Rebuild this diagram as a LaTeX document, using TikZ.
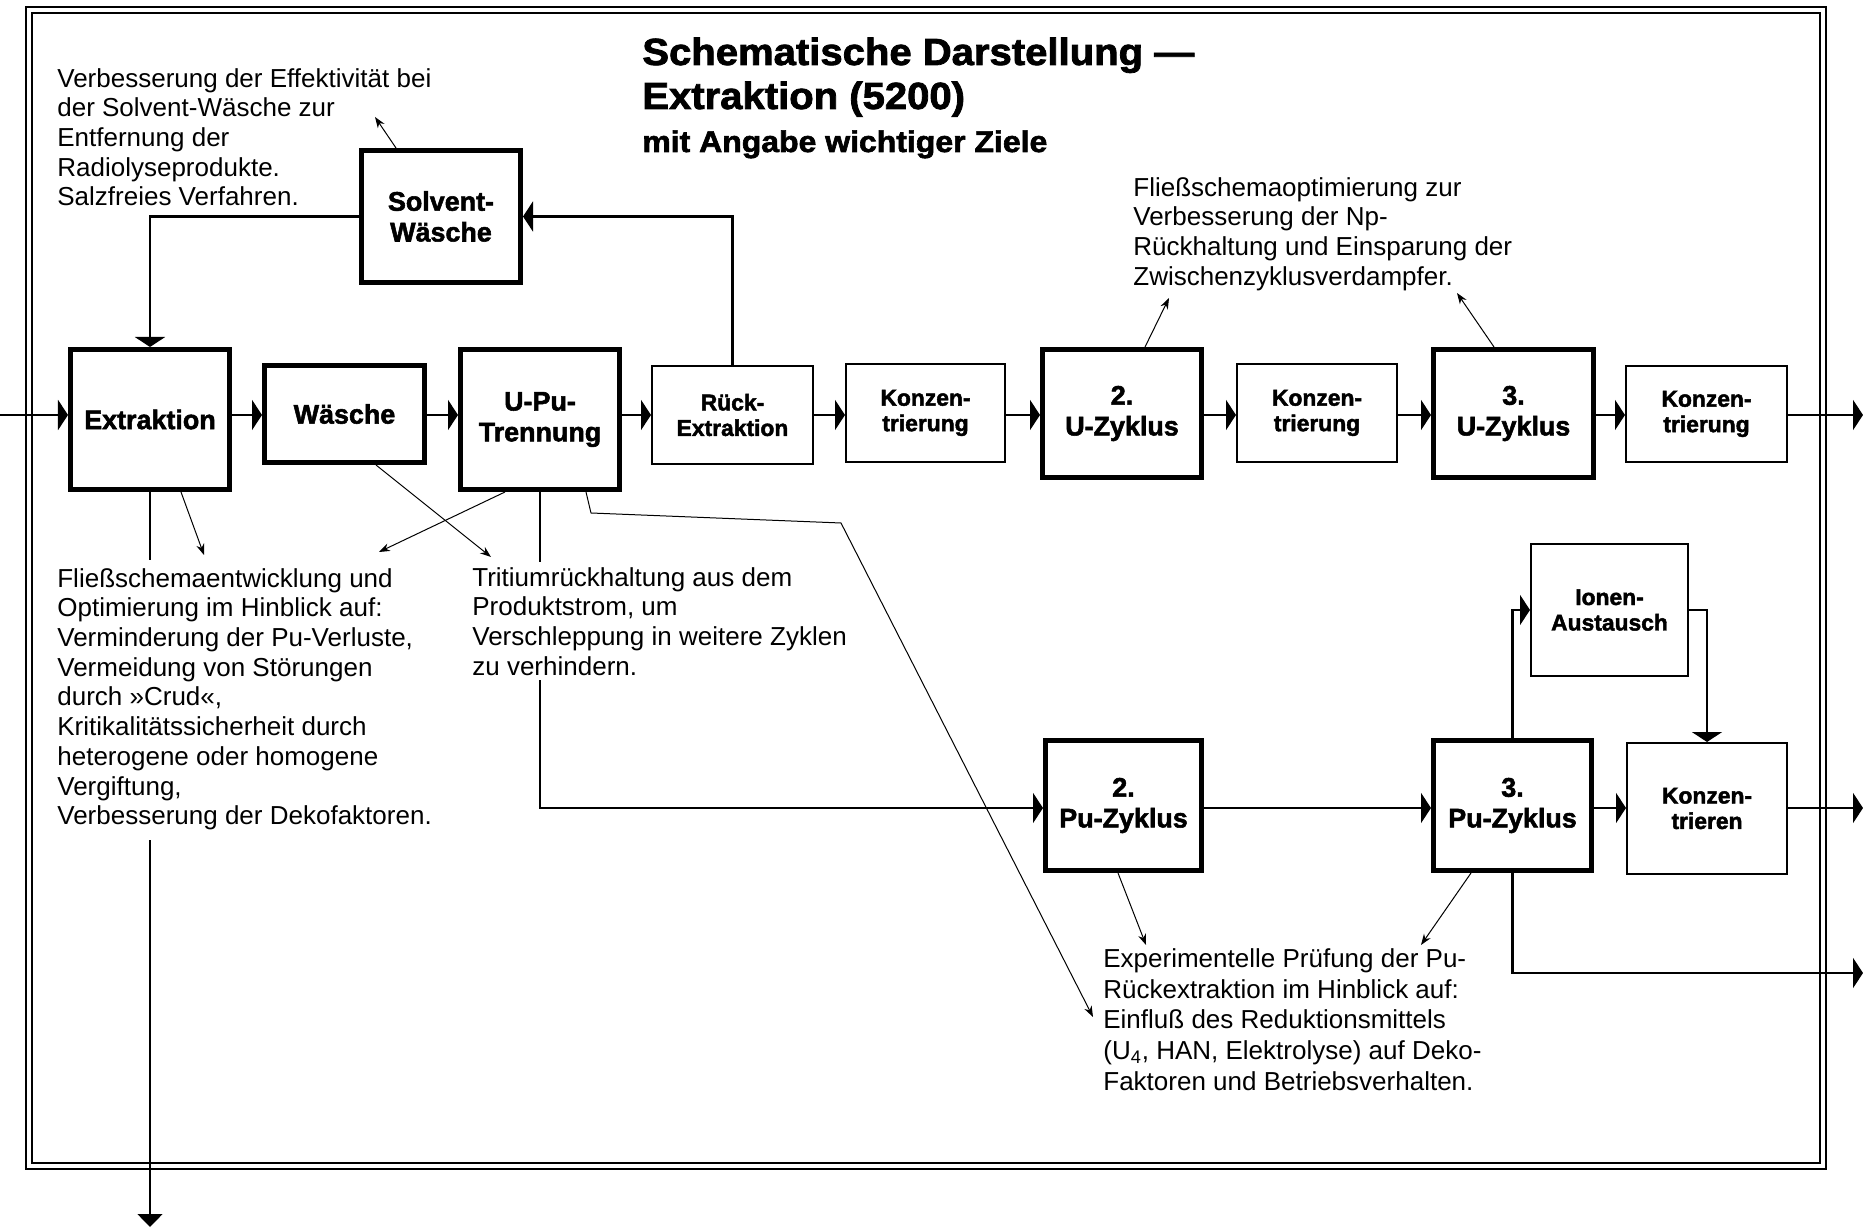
\documentclass[tikz,border=0pt]{standalone}
\usepackage{fontspec}
\setmainfont{Liberation Sans}
\newfontfamily\heavyfont{Liberation Sans}[UprightFont={* Bold},FakeBold=2]
\usepackage{graphicx}
\usetikzlibrary{arrows.meta,calc}

\begin{document}
\begin{tikzpicture}[x=0.2mm,y=-0.2mm,
  every node/.style={inner sep=0pt},
  thickbox/.style={draw,line width=1mm,align=center,
    font=\fontsize{15.3}{17.5}\selectfont\heavyfont},
  thinbox/.style={draw,line width=0.4mm,align=center,
    font=\fontsize{13}{14.5}\selectfont\heavyfont},
  note/.style={anchor=north west,align=left,
    font=\fontsize{14.8}{16.9}\selectfont},
  flow/.style={line width=0.45mm,-{Triangle[length=2mm,width=6mm]}},
  flowline/.style={line width=0.45mm},
  lead/.style={line width=0.2mm,-{Stealth[length=2.2mm,width=1.6mm]}},
  heading/.style={anchor=base west,font=\fontsize{21.5}{24}\selectfont\heavyfont},
]
\useasboundingbox (0,0) rectangle (1863,1229);

% double frame
\draw[line width=0.25mm] (26,7) rectangle (1826,1169);
\draw[line width=0.25mm] (32,13) rectangle (1820,1163);

% headings
\node[heading] (title) at (642,65) {\scalebox{1.06}[1]{Schematische Darstellung —}};
\node[heading] (title2) at (642,109) {\scalebox{1.06}[1]{Extraktion (5200)}};
\node[heading,font=\fontsize{17}{19}\selectfont\heavyfont] (subtitle) at (642,152)
  {\scalebox{1.07}[1]{mit Angabe wichtiger Ziele}};

% process steps, uranium line
\node[thickbox,minimum width=31.8mm,minimum height=28mm] (extr) at (150,419.5) {Extraktion};
\node[thickbox,minimum width=32mm,minimum height=19.4mm] (wasch) at (344.5,414) {Wäsche};
\node[thickbox,minimum width=31.8mm,minimum height=28mm] (upu) at (540,419.5) {U-Pu-\\Trennung};
\node[thickbox,minimum width=31.8mm,minimum height=26.4mm] (solv) at (441,216.5) {Solvent-\\Wäsche};
\node[thinbox,minimum width=32.2mm,minimum height=19.6mm] (rueck) at (732.5,415) {Rück-\\Extraktion};
\node[thinbox,minimum width=31.8mm,minimum height=19.6mm] (konz1) at (925.5,413) {Konzen-\\trierung};
\node[thickbox,minimum width=31.8mm,minimum height=25.6mm] (u2) at (1122,413.5) {2.\\U-Zyklus};
\node[thinbox,minimum width=32mm,minimum height=19.6mm] (konz2) at (1317,413) {Konzen-\\trierung};
\node[thickbox,minimum width=32mm,minimum height=25.6mm] (u3) at (1513.5,413.5) {3.\\U-Zyklus};
\node[thinbox,minimum width=32.2mm,minimum height=19.2mm] (konz3) at (1706.5,414) {Konzen-\\trierung};

% process steps, plutonium line
\node[thickbox,minimum width=31.2mm,minimum height=26mm] (pu2) at (1123.5,805.5) {2.\\Pu-Zyklus};
\node[thickbox,minimum width=31.6mm,minimum height=26mm] (pu3) at (1512.5,805.5) {3.\\Pu-Zyklus};
\node[thinbox,minimum width=31.4mm,minimum height=26.4mm] (ionen) at (1609.5,610) {Ionen-\\Austausch};
\node[thinbox,minimum width=32mm,minimum height=26.2mm] (konzr) at (1707,808.5) {Konzen-\\trieren};

% goal notes
\node[note] (nSolv) at (57,66) {\strut Verbesserung der Effektivität bei\\der Solvent-Wäsche zur\\Entfernung der\\Radiolyseprodukte.\\Salzfreies Verfahren.};
\node[note] (nU) at (1133,175) {\strut Fließschemaoptimierung zur\\Verbesserung der Np-\\Rückhaltung und Einsparung der\\Zwischenzyklusverdampfer.};
\node[note] (nExtr) at (57,566) {\strut Fließschemaentwicklung und\\Optimierung im Hinblick auf:\\Verminderung der Pu-Verluste,\\Vermeidung von Störungen\\durch »Crud«,\\Kritikalitätssicherheit durch\\heterogene oder homogene\\Vergiftung,\\Verbesserung der Dekofaktoren.};
\node[note] (nTrit) at (472,565) {\strut Tritiumrückhaltung aus dem\\Produktstrom, um\\Verschleppung in weitere Zyklen\\zu verhindern.};
\node[note,font=\fontsize{14.8}{17.4}\selectfont] (nPu) at (1103,946) {\strut Experimentelle Prüfung der Pu-\\Rückextraktion im Hinblick auf:\\Einfluß des Reduktionsmittels\\(U\textsubscript{4}, HAN, Elektrolyse) auf Deko-\\Faktoren und Betriebsverhalten.};

% reference points
\coordinate (rowU) at (0,415);
\coordinate (rowPu) at (0,808);
\coordinate (inU) at (0,415);
\coordinate (outU) at (1863,415);
\coordinate (outPu) at (1863,808);
\coordinate (outSide) at (1863,973);
\coordinate (wasteA) at (150,560);
\coordinate (wasteB) at (150,840);
\coordinate (wasteEnd) at (150,1227);
\coordinate (tritA) at (0,562);
\coordinate (tritB) at (0,680);

% main uranium stream
\draw[flow] (inU) -- (extr.west |- rowU);
\draw[flow] (extr.east |- rowU) -- (wasch.west |- rowU);
\draw[flow] (wasch.east |- rowU) -- (upu.west |- rowU);
\draw[flow] (upu.east |- rowU) -- (rueck.west |- rowU);
\draw[flow] (rueck.east |- rowU) -- (konz1.west |- rowU);
\draw[flow] (konz1.east |- rowU) -- (u2.west |- rowU);
\draw[flow] (u2.east |- rowU) -- (konz2.west |- rowU);
\draw[flow] (konz2.east |- rowU) -- (u3.west |- rowU);
\draw[flow] (u3.east |- rowU) -- (konz3.west |- rowU);
\draw[flow] (konz3.east |- rowU) -- (outU);

% solvent recycle
\draw[flow] (rueck.north) |- (solv.east);
\draw[flow] (solv.west) -| (extr.north);

% raffinate
\draw[flowline] (extr.south) -- (wasteA);
\draw[line width=0.3mm,-{Triangle[length=2.6mm,width=5mm]}] (wasteB) -- (wasteEnd);

% plutonium stream
\draw[flowline] (upu.south) -- (upu.south |- tritA);
\draw[flow] (upu.south |- tritB) |- (pu2.west |- rowPu);
\draw[flow] (pu2.east |- rowPu) -- (pu3.west |- rowPu);
\draw[flow] (pu3.east |- rowPu) -- (konzr.west |- rowPu);
\draw[flow] (konzr.east |- rowPu) -- (outPu);
\draw[flow] (pu3.north) |- (ionen.west);
\draw[flow] (ionen.east) -| (konzr.north);
\draw[flow] (pu3.south) |- (outSide);

% leaders to the notes
\coordinate (tipS) at (375,117);
\coordinate (tipU2) at (1169,298);
\coordinate (tipU3) at (1457,293);
\coordinate (tipE) at (204,555);
\coordinate (tipW) at (491,557);
\coordinate (tipUP) at (379,552);
\coordinate (bendA) at (591,513);
\coordinate (bendB) at (841,523);
\coordinate (tipPu) at (1093,1017);
\coordinate (tipP2) at (1146,945);
\coordinate (tipP3) at (1421,945);

\draw[lead] ($(solv.north)+(-45,0)$) -- (tipS);
\draw[lead] ($(u2.north)+(23,0)$) -- (tipU2);
\draw[lead] ($(u3.north)+(-19.5,0)$) -- (tipU3);
\draw[lead] ($(extr.south)+(31,0)$) -- (tipE);
\draw[lead] ($(wasch.south)+(31.5,0)$) -- (tipW);
\draw[lead] ($(upu.south)+(-35,0)$) -- (tipUP);
\draw[lead] ($(upu.south)+(46,0)$) -- (bendA) -- (bendB) -- (tipPu);
\draw[lead] ($(pu2.south)+(-5.5,0)$) -- (tipP2);
\draw[lead] ($(pu3.south)+(-41.5,0)$) -- (tipP3);
\end{tikzpicture}
\end{document}
